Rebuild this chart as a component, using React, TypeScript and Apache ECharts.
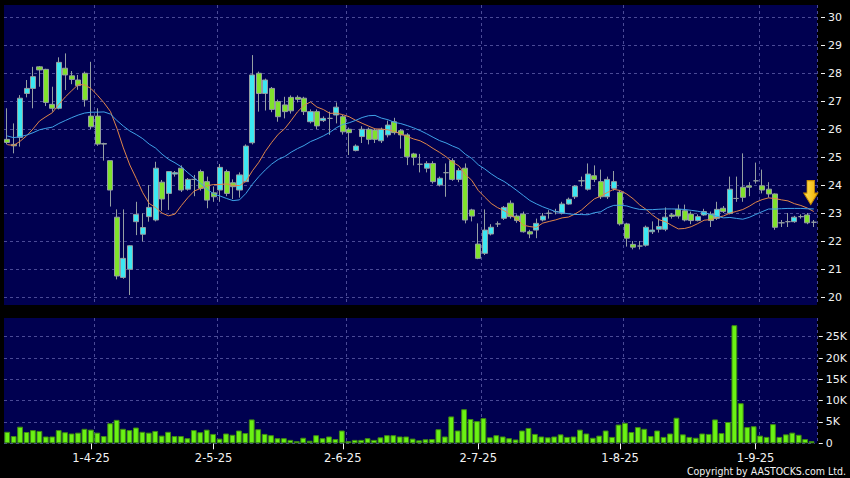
import React, { useEffect, useRef } from "react";
import * as echarts from "echarts";

const dates = [
  "2025-03-12","2025-03-13","2025-03-14","2025-03-17","2025-03-18","2025-03-19","2025-03-20","2025-03-21","2025-03-24","2025-03-25","2025-03-26","2025-03-27","2025-03-28","2025-03-31",
  "2025-04-01","2025-04-02","2025-04-03","2025-04-07","2025-04-08","2025-04-09","2025-04-10","2025-04-11","2025-04-14","2025-04-15","2025-04-16","2025-04-17","2025-04-22","2025-04-23","2025-04-24","2025-04-25","2025-04-28","2025-04-29","2025-04-30",
  "2025-05-02","2025-05-06","2025-05-07","2025-05-08","2025-05-09","2025-05-12","2025-05-13","2025-05-14","2025-05-15","2025-05-16","2025-05-19","2025-05-20","2025-05-21","2025-05-22","2025-05-23","2025-05-26","2025-05-27","2025-05-28","2025-05-29","2025-05-30",
  "2025-06-02","2025-06-03","2025-06-04","2025-06-05","2025-06-06","2025-06-09","2025-06-10","2025-06-11","2025-06-12","2025-06-13","2025-06-16","2025-06-17","2025-06-18","2025-06-19","2025-06-20","2025-06-23","2025-06-24","2025-06-25","2025-06-26","2025-06-27","2025-06-30",
  "2025-07-02","2025-07-03","2025-07-04","2025-07-07","2025-07-08","2025-07-09","2025-07-10","2025-07-11","2025-07-14","2025-07-15","2025-07-16","2025-07-17","2025-07-18","2025-07-21","2025-07-22","2025-07-23","2025-07-24","2025-07-25","2025-07-28","2025-07-29","2025-07-30","2025-07-31",
  "2025-08-01","2025-08-04","2025-08-05","2025-08-06","2025-08-07","2025-08-08","2025-08-11","2025-08-12","2025-08-13","2025-08-14","2025-08-15","2025-08-18","2025-08-19","2025-08-20","2025-08-21","2025-08-22","2025-08-25","2025-08-26","2025-08-27","2025-08-28","2025-08-29",
  "2025-09-01","2025-09-02","2025-09-03","2025-09-04","2025-09-05","2025-09-08","2025-09-09","2025-09-10","2025-09-11"
];

const opens = [
  25.63,25.45,25.70,27.27,27.45,28.22,28.13,26.88,26.74,28.17,27.90,27.75,27.99,26.46,
  26.46,25.48,24.87,22.85,20.70,20.99,22.69,22.24,22.87,22.75,24.10,23.70,24.39,24.60,23.85,24.20,24.48,24.12,23.72,
  23.82,24.48,24.08,23.82,24.12,25.51,27.99,27.27,27.45,26.98,26.86,27.13,27.13,27.10,26.26,26.62,26.30,26.38,26.50,26.44,
  25.99,25.23,25.73,25.99,25.96,25.58,25.79,26.26,25.94,25.79,25.11,24.74,24.60,24.77,24.00,24.44,24.87,24.20,24.60,23.11,
  21.89,21.56,22.25,22.61,22.81,23.35,22.89,22.96,22.33,22.39,22.75,22.99,23.05,22.99,23.32,23.58,24.15,23.85,24.33,24.12,23.58,23.88,
  23.74,22.61,21.88,21.82,21.85,22.33,22.42,22.42,22.93,23.13,23.08,22.96,22.73,22.93,22.96,22.81,23.17,22.99,23.52,23.92,23.97,
  24.15,23.97,23.85,23.68,22.65,22.69,22.69,22.87,22.93,22.67
];
const closes = [
  25.52,25.40,27.10,27.45,27.87,28.11,26.95,26.74,28.38,27.93,27.77,27.55,27.04,26.08,
  25.46,25.46,23.82,20.75,21.38,21.83,22.95,22.48,23.20,24.60,23.50,24.48,24.44,23.82,24.20,24.20,23.88,23.46,23.58,
  24.63,23.70,23.94,24.36,25.39,27.93,27.27,27.75,26.70,26.44,26.62,26.65,27.06,26.62,26.62,26.11,26.38,26.38,26.78,25.90,
  25.87,25.39,25.99,25.63,25.63,25.99,26.14,25.87,25.79,25.01,24.99,24.74,24.77,24.12,24.24,24.44,24.20,24.52,22.75,22.89,
  21.38,22.39,22.49,22.61,23.20,22.87,22.73,22.33,22.25,22.63,22.89,22.99,23.05,23.32,23.49,23.96,24.15,24.39,24.20,23.58,24.20,24.12,
  22.61,22.10,21.78,21.82,22.49,22.39,22.52,22.85,22.88,22.89,22.75,22.73,22.87,23.05,22.73,23.13,23.05,23.85,23.52,23.56,23.92,
  24.15,23.82,23.68,22.49,22.65,22.69,22.85,22.87,22.65,22.67
];
const lows = [
  25.45,25.13,25.37,27.13,26.74,27.51,26.82,26.62,26.70,27.39,27.60,27.40,26.80,26.00,
  25.40,24.87,23.23,20.63,20.65,20.07,22.21,21.98,22.69,22.70,23.08,23.11,24.30,23.75,23.80,23.60,23.80,23.17,23.40,
  23.40,23.60,23.50,23.55,24.10,25.45,26.62,26.66,26.60,26.26,26.38,26.55,26.95,26.50,26.20,26.00,26.25,25.79,26.20,25.80,
  25.07,25.20,25.50,25.45,25.50,25.50,25.70,25.80,25.30,24.71,24.70,24.45,24.45,24.05,23.95,23.58,24.15,24.10,22.63,22.70,
  21.35,21.50,22.20,22.50,22.75,22.80,22.65,22.30,22.10,22.10,22.70,22.80,22.95,22.95,23.30,23.50,23.95,23.80,24.10,23.50,23.50,23.80,
  22.55,21.80,21.70,21.70,21.80,22.25,22.30,22.35,22.80,22.80,22.70,22.60,22.70,22.90,22.50,22.75,23.00,22.95,23.40,23.40,23.60,
  24.05,23.70,23.55,22.40,22.50,22.50,22.65,22.80,22.60,22.50
];
const highs = [
  26.74,26.20,27.21,27.75,28.22,28.25,28.15,27.51,28.56,28.70,28.07,27.93,28.05,28.40,
  26.74,25.51,24.87,23.13,23.13,21.85,23.40,22.99,24.00,24.83,24.18,24.50,24.50,24.70,24.25,24.36,24.55,24.30,23.95,
  24.75,24.55,24.20,24.45,25.45,28.64,28.05,27.80,27.50,27.05,27.15,27.20,27.20,27.15,26.70,26.70,26.45,26.62,26.95,26.50,
  26.05,25.45,26.10,26.05,26.00,26.05,26.30,26.40,26.00,25.85,25.15,25.11,24.85,24.85,24.30,24.77,24.95,24.60,24.77,23.15,
  22.63,23.13,22.60,22.70,23.25,23.45,22.95,23.05,22.40,22.80,23.00,23.10,23.15,23.40,23.55,24.00,24.30,24.77,24.70,24.55,24.30,24.50,
  23.80,22.65,22.00,22.00,22.55,22.70,22.80,23.20,23.00,23.30,23.30,23.05,22.95,23.15,23.05,23.40,23.25,24.30,24.30,25.13,24.10,
  24.80,24.55,24.10,23.70,22.75,23.00,22.90,22.95,23.00,22.75
];
const volumes = [
  2700,1700,3900,2650,3100,2900,1600,1600,3100,2600,2300,2500,3400,3200,
  2500,1700,4700,5500,3400,3100,3700,2700,2500,2900,1800,2700,1700,1700,1200,3100,2600,3200,2200,
  1100,2300,2000,3000,2400,5600,3300,2200,1900,1200,1200,800,500,1300,600,1900,1200,1600,1000,3000,
  500,800,800,1200,800,1400,1900,1900,1600,1600,1100,700,950,1000,3300,1600,6300,3000,8000,5700,
  5200,5900,1400,1900,1600,1200,900,3000,3600,2200,1600,1400,1600,2100,1500,1600,3200,2300,1300,1800,3000,1500,
  4400,4800,2650,3800,3400,1700,3000,1500,2300,6000,2100,1500,1300,2300,2200,5600,2400,5000,27700,9400,3800,
  4000,1800,1500,4500,1500,2100,2500,2000,1000,500
];
// closes of the 19 sessions before the first date
const maWarmupCloses = [26.6,26.4,26.3,26.2,26.0,25.9,25.9,25.8,25.8,25.7,25.7,25.6,25.5,25.4,25.3,25.4,25.3,25.4,25.3];

const NAVY = "#000050";
const GRID_LINE = "#4a4a96";
const TEXT = "#f2f2f2";
const CYAN = "#3ce8f2";
const GREEN = "#80e22c";
const WICK = "#959fa2";
const FONT = "DejaVu Sans";

function sma(period: number): number[] {
  const all = maWarmupCloses.concat(closes);
  const off = maWarmupCloses.length;
  return closes.map((_, i) => {
    const end = off + i;
    const start = Math.max(0, end - period + 1);
    let s = 0;
    for (let k = start; k <= end; k++) s += all[k];
    return +(s / (end - start + 1)).toFixed(3);
  });
}

const isMonthStart = (i: number) =>
  i > 0 && i < dates.length && dates[i].slice(5, 7) !== dates[i - 1].slice(5, 7);
const fmtDate = (v: string) => {
  const [y, m, d] = v.split("-");
  return `${+d}-${+m}-${y.slice(2)}`;
};

export default function App() {
  const ref = useRef<HTMLDivElement>(null);
  useEffect(() => {
    document.body.style.margin = "0";
    document.body.style.background = "#000";
    const chart = echarts.init(ref.current!, undefined, { renderer: "svg" });
    const L = 4;
    const R = 33;
    const arrowFill = new echarts.graphic.LinearGradient(0, 0, 1, 0, [
      { offset: 0, color: "#ffe25a" },
      { offset: 1, color: "#f2b000" },
    ]);
    chart.setOption({
      animation: false,
      backgroundColor: "#000",
      grid: [
        { left: L, right: R, top: 5, height: 300, show: true, backgroundColor: NAVY, borderWidth: 0 },
        { left: L, right: R, top: 17, height: 280 },
        { left: L, right: R, top: 318, height: 125.3, show: true, backgroundColor: NAVY, borderWidth: 0 },
        { left: L, right: R, top: 336.7, height: 106.6 },
      ],
      xAxis: [
        {
          type: "category", gridIndex: 0, data: dates, boundaryGap: true,
          axisLine: { show: false }, axisTick: { show: false }, axisLabel: { show: false },
          splitLine: { show: true, interval: (i: number) => isMonthStart(i), lineStyle: { color: GRID_LINE, type: [3, 3], width: 1 } },
        },
        { type: "category", gridIndex: 1, data: dates, show: false },
        {
          type: "category", gridIndex: 2, data: dates, boundaryGap: true,
          axisLine: { show: false },
          axisTick: { show: true, alignWithLabel: true, interval: (i: number) => isMonthStart(i + 1), length: 6, lineStyle: { color: TEXT } },
          axisLabel: {
            interval: (i: number) => isMonthStart(i), formatter: (v: string) => fmtDate(v),
            color: TEXT, fontFamily: FONT, fontSize: 11.5, margin: 9, padding: [0, 13, 0, 0],
          },
          splitLine: { show: true, interval: (i: number) => isMonthStart(i), lineStyle: { color: GRID_LINE, type: [3, 3], width: 1 } },
        },
        { type: "category", gridIndex: 3, data: dates, show: false },
      ],
      yAxis: [
        { type: "value", gridIndex: 0, min: 0, max: 1, show: false },
        {
          type: "value", gridIndex: 1, position: "right", min: 20, max: 30, interval: 1, offset: 4,
          axisLine: { show: false }, axisTick: { show: true, length: 4, lineStyle: { color: TEXT } },
          axisLabel: { color: TEXT, fontFamily: FONT, fontSize: 11, margin: 7 },
          splitLine: { show: true, lineStyle: { color: GRID_LINE, type: [3, 3], width: 1 } },
        },
        { type: "value", gridIndex: 2, min: 0, max: 1, show: false },
        {
          type: "value", gridIndex: 3, position: "right", min: 0, max: 25000, interval: 5000, offset: 4,
          axisLine: { show: false }, axisTick: { show: true, length: 4, lineStyle: { color: TEXT } },
          axisLabel: { color: TEXT, fontFamily: FONT, fontSize: 11, margin: 7, formatter: (v: number) => (v === 0 ? "0" : v / 1000 + "K") },
          splitLine: { show: true, lineStyle: { color: GRID_LINE, type: [3, 3], width: 1 } },
        },
      ],
      series: [
        {
          type: "candlestick", xAxisIndex: 1, yAxisIndex: 1, barWidth: "86%",
          data: dates.map((_, i) => [opens[i], closes[i], lows[i], highs[i]]),
          itemStyle: { color: CYAN, color0: GREEN, borderColor: WICK, borderColor0: WICK, borderWidth: 1 },
          markPoint: {
            silent: true,
            symbol: "path://M3,0L10,0L10,12L13,12L6.5,23L0,12L3,12Z",
            symbolSize: [14, 24],
            symbolOffset: [-3, 0],
            label: { show: false },
            itemStyle: { color: arrowFill, borderColor: "#c98a00", borderWidth: 1 },
            data: [{ coord: [dates[dates.length - 1], 23.73] }],
          },
        },
        {
          type: "line", xAxisIndex: 1, yAxisIndex: 1, data: sma(10), showSymbol: false, symbol: "none",
          lineStyle: { color: "#e0864a", width: 1 }, z: 3,
        },
        {
          type: "line", xAxisIndex: 1, yAxisIndex: 1, data: sma(20), showSymbol: false, symbol: "none",
          lineStyle: { color: "#3fa2e8", width: 1 }, z: 3,
        },
        {
          type: "bar", xAxisIndex: 3, yAxisIndex: 3, data: volumes, barWidth: "90%", clip: false,
          itemStyle: { color: "#6af214", borderColor: "#3f8a12", borderWidth: 1 },
        },
      ],
      graphic: [
        {
          type: "text", right: 4, top: 465,
          style: { text: "Copyright by AASTOCKS.com Ltd.", fill: TEXT, font: '10.5px "DejaVu Sans Condensed", "DejaVu Sans"' },
        },
      ],
    });
    return () => chart.dispose();
  }, []);
  return <div ref={ref} style={{ width: 850, height: 478, background: "#000" }} />;
}
